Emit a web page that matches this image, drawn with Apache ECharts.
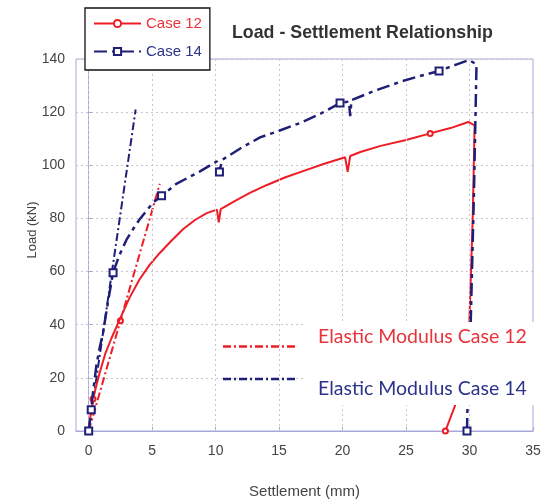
<!DOCTYPE html>
<html>
<head>
<meta charset="utf-8">
<script src="https://cdn.jsdelivr.net/npm/echarts@6/dist/echarts.min.js"></script>
<style>
  html, body { margin: 0; padding: 0; background: #fff; }
  #chart { width: 549px; height: 504px; }
</style>
</head>
<body>
<div id="chart"></div>
<script>
// Load - settlement curves (settlement in mm, load in kN)
const case12X = [0, 0.15, 0.34, 0.6, 0.87, 1.3, 1.8, 2.45, 3.2, 4.0, 4.8, 5.6, 6.5, 7.45, 8.4, 9.3, 10.1, 10.25, 10.4, 11.5, 12.7, 14, 15.5, 17, 18.5, 20.2, 20.4, 20.6, 21.4, 23, 25, 26.9, 28.5, 29.9, 30.4, 30.25, 29.98, 29.05, 28.1];
const case12Y = [0, 6, 12, 17, 22, 29, 35, 42, 50, 57, 62.5, 67, 71.5, 76, 79.5, 82, 83.3, 78.5, 83.5, 86.5, 89.6, 92.5, 95.5, 98, 100.5, 103, 97.5, 103.5, 105, 107.3, 109.5, 112, 114, 116.3, 115, 80, 40, 12, 0];
const case12Marks = [2, 31, 38];

const case14X = [0, 0.2, 0.34, 0.6, 0.85, 1.13, 1.5, 1.92, 2.4, 2.98, 3.5, 4.0, 5.08, 5.74, 6.9, 8.77, 10.1, 10.3, 10.5, 12, 13.5, 15, 16.7, 18.3, 19.8, 20.5, 20.6, 20.7, 22.5, 24.6, 26, 27.6, 29, 29.96, 30.55, 30.35, 30.1, 29.85, 29.8];
const case14Y = [0, 8, 14.5, 24.5, 31, 37, 48, 59.6, 66, 72, 76, 79.6, 86, 88.5, 93, 97.7, 101.5, 97.5, 102, 106.5, 110.5, 113, 116, 119.5, 123.4, 124, 118.5, 124.5, 128, 131.5, 133.5, 135.5, 138, 139.6, 138, 90, 42, 12, 0];
const case14Marks = [0, 1, 7, 13, 17, 24, 31, 38];

// Elastic modulus lines
const elastic12X = [0, 2.5, 5.6];
const elastic12Y = [0, 41.5, 93];
const elastic14X = [0, 3.7];
const elastic14Y = [0, 121];

const xTicks = [0, 5, 10, 15, 20, 25, 30, 35];
const yTicks = [0, 20, 40, 60, 80, 100, 120, 140];

const RED = '#ee1c25';
const NAVY = '#1f1f78';
const FRAME = '#a8a8d8';
const GRIDLINE = '#c6c6d2';

function buildData(xs, ys, marks) {
  return xs.map((x, i) => {
    const item = { value: [x, ys[i]] };
    if (marks.indexOf(i) < 0) item.symbol = 'none';
    return item;
  });
}
function pairs(xs, ys) { return xs.map((x, i) => [x, ys[i]]); }

const chart = echarts.init(document.getElementById('chart'));
chart.setOption({
  animation: false,
  backgroundColor: '#fff',
  title: {
    text: 'Load - Settlement Relationship',
    left: 227, top: 19,
    textStyle: { fontFamily: 'Liberation Sans', fontSize: 17.8, fontWeight: 'bold', color: '#333' }
  },
  legend: {
    orient: 'vertical',
    left: 85, top: 8,
    padding: [8, 8, 11, 8],
    itemGap: 13,
    itemWidth: 47, itemHeight: 9,
    backgroundColor: '#fff',
    borderColor: '#111', borderWidth: 1.3, borderRadius: 0,
    data: [
      { name: 'Case 12', textStyle: { color: '#e8333b' } },
      { name: 'Case 14', textStyle: { color: '#2a3388' } }
    ],
    textStyle: { fontFamily: 'Liberation Sans', fontSize: 15 },
    z: 20
  },
  grid: {
    left: 76, right: 16, top: 59, bottom: 72,
    show: true, borderColor: FRAME, borderWidth: 1, backgroundColor: 'transparent'
  },
  xAxis: {
    type: 'value', min: -1, max: 35,
    name: 'Settlement (mm)', nameLocation: 'middle', nameGap: 53, nameMoveOverlap: false,
    nameTextStyle: { fontFamily: 'Liberation Sans', fontSize: 15, color: '#444' },
    axisLine: { lineStyle: { color: FRAME } },
    axisTick: { inside: true, length: 4, customValues: xTicks, lineStyle: { color: FRAME } },
    axisLabel: {
      margin: 13, fontFamily: 'Liberation Sans', fontSize: 14, color: '#444',
      customValues: xTicks
    },
    splitLine: { show: false }
  },
  yAxis: {
    type: 'value', min: 0, max: 140, interval: 20,
    name: 'Load (kN)', nameLocation: 'middle', nameGap: 37, nameMoveOverlap: false,
    nameTextStyle: { fontFamily: 'Liberation Sans', fontSize: 13, color: '#444', padding: [0, 0, 0, 30] },
    axisLine: { show: true, lineStyle: { color: FRAME } },
    axisTick: { show: true, inside: true, length: 4, lineStyle: { color: FRAME } },
    axisLabel: {
      margin: 11, fontFamily: 'Liberation Sans', fontSize: 14, color: '#444',
      customValues: yTicks
    },
    splitLine: { show: true, lineStyle: { color: GRIDLINE, type: [2, 3], width: 1 } }
  },
  series: [
    {
      // vertical dotted grid lines at the settlement ticks
      name: 'grid', type: 'line', z: 1, data: [], silent: true,
      markLine: {
        silent: true, symbol: 'none', label: { show: false },
        lineStyle: { color: GRIDLINE, type: [2, 3], width: 1 },
        data: xTicks.filter(v => v < 35).map(v => ({ xAxis: v }))
      }
    },
    {
      name: 'Elastic Modulus Case 12', type: 'line', z: 3,
      data: buildData(elastic12X, elastic12Y, [1]),
      symbol: 'emptyCircle', symbolSize: 5,
      itemStyle: { color: RED },
      lineStyle: { color: RED, width: 2, type: [8, 3, 2, 3] }
    },
    {
      name: 'Elastic Modulus Case 14', type: 'line', z: 3,
      data: pairs(elastic14X, elastic14Y),
      symbol: 'none',
      lineStyle: { color: NAVY, width: 2, type: [8, 3, 2, 3] }
    },
    {
      name: 'Case 12', type: 'line', z: 4,
      data: buildData(case12X, case12Y, case12Marks),
      symbol: 'emptyCircle', symbolSize: 5, showSymbol: true,
      itemStyle: { color: RED, borderWidth: 1 },
      lineStyle: { color: RED, width: 2 }
    },
    {
      name: 'Case 14', type: 'line', z: 5,
      data: buildData(case14X, case14Y, case14Marks),
      symbol: 'emptyRect', symbolSize: 7, showSymbol: true,
      itemStyle: { color: NAVY, borderWidth: 1 },
      lineStyle: { color: NAVY, width: 2.5, type: [13, 5, 4, 5] }
    }
  ],
  graphic: [
    // annotation box for the elastic modulus lines
    { type: 'rect', z: 50, shape: { x: 305, y: 322, width: 244, height: 83 }, style: { fill: '#fff' } },
    { type: 'line', z: 51, shape: { x1: 223, y1: 346.5, x2: 298, y2: 346.5 },
      style: { stroke: RED, lineWidth: 2.5, lineDash: [8, 3, 2, 3] } },
    { type: 'line', z: 51, shape: { x1: 223, y1: 379, x2: 298, y2: 379 },
      style: { stroke: NAVY, lineWidth: 2.5, lineDash: [8, 3, 2, 3] } },
    { type: 'text', z: 51, left: 318, top: 326.5,
      style: { text: 'Elastic Modulus Case 12', fill: '#e8333b', font: '19.5px Lato' } },
    { type: 'text', z: 51, left: 318, top: 378.5,
      style: { text: 'Elastic Modulus Case 14', fill: '#2a3388', font: '19.5px Lato' } }
  ]
});
</script>
</body>
</html>
